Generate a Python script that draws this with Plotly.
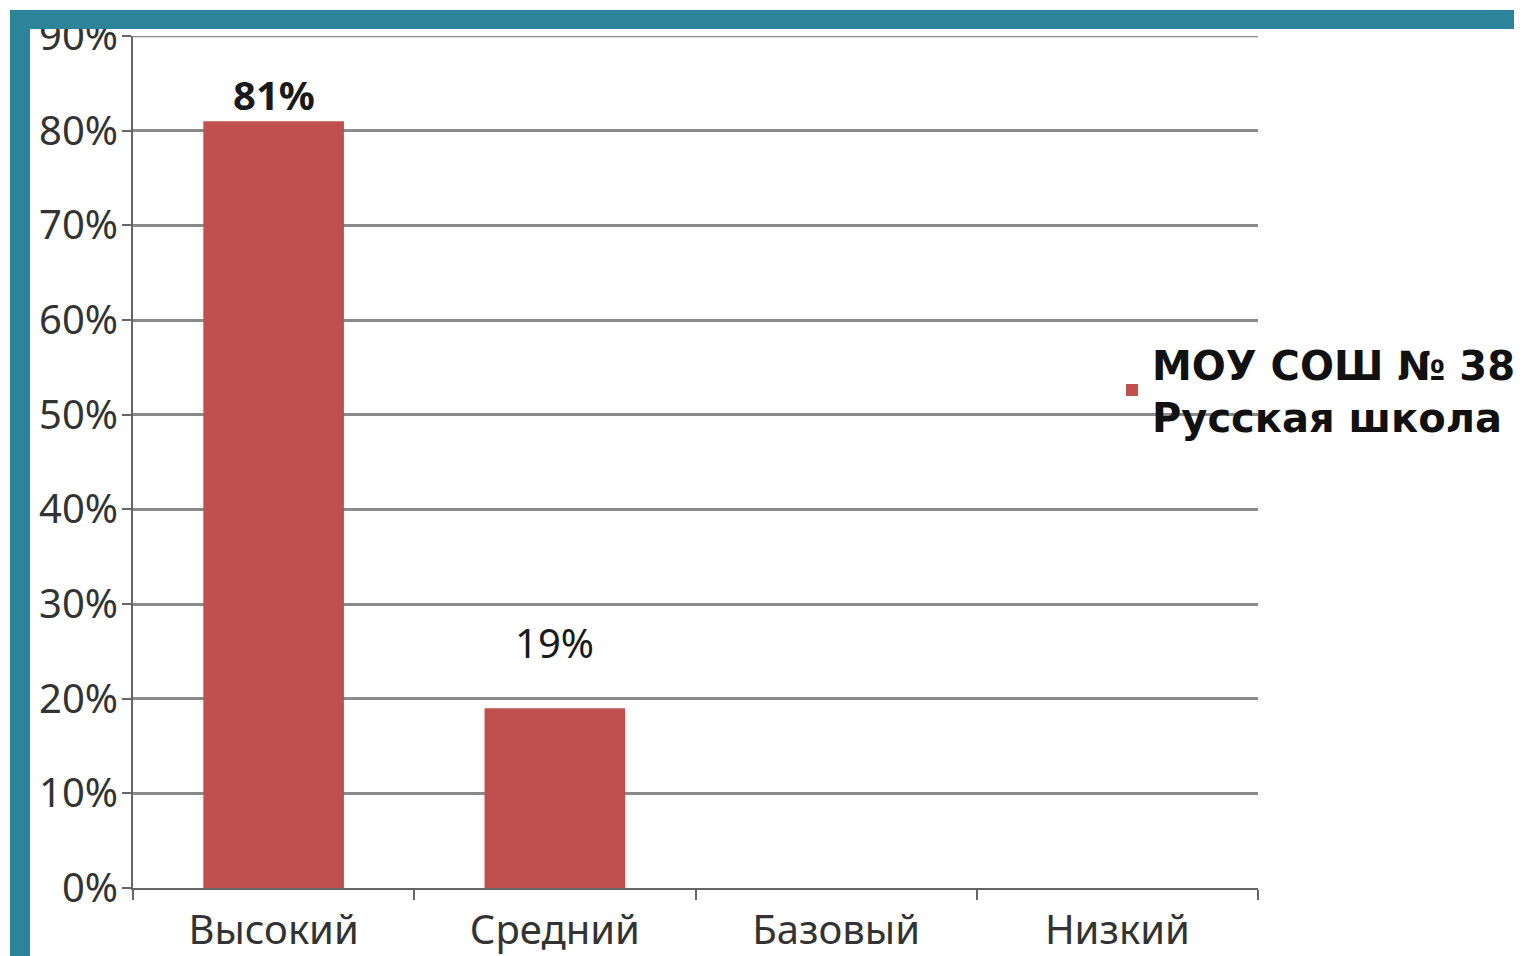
import plotly.graph_objects as go

categories = ["Высокий", "Средний", "Базовый", "Низкий"]
values = [81, 19, 0, 0]
series_name = "МОУ СОШ № 38<br>Русская школа"
y_ticks = list(range(0, 91, 10))
y_tick_labels = [f"{t}%" for t in y_ticks]

# label styling (offsets in px above bar top, bold flags)
label_shift = [27, 66, 0, 0]
label_bold = [True, False, False, False]

# page shows the figure offset by the default 8px body margin
OFF = 8
W, H = 1522 - OFF, 956 - OFF
ML, MT = 133 - OFF, 36 - OFF
PR, PB = 1258 - OFF, 888 - OFF
MR, MB = W - PR, H - PB
PW, PH = PR - ML, PB - MT

def px_x(px):
    return (px - OFF - ML) / PW

def px_y(py):
    return (PB - (py - OFF)) / PH

FONT = "Noto Sans"
GRID = "#8a8a8a"

fig = go.Figure()
fig.add_trace(go.Bar(
    x=categories, y=values, name=series_name,
    marker=dict(color="#C0504D", line=dict(width=0)),
    width=0.5,
    showlegend=True,
))

annotations = []
for cat, v, sh, b in zip(categories, values, label_shift, label_bold):
    if v == 0:
        continue
    annotations.append(dict(
        x=cat, y=v, xref="x", yref="y", text=f"{v}%",
        showarrow=False, yanchor="middle", yshift=sh,
        font=dict(family=FONT, size=40, color="#1a1a1a",
                  weight="bold" if b else "normal"),
    ))

fig.update_layout(
    width=W, height=H,
    margin=dict(l=ML, r=MR, t=MT, b=MB, autoexpand=False),
    paper_bgcolor="white", plot_bgcolor="white",
    font=dict(family=FONT, size=40, color="#333333"),
    legend=dict(
        x=px_x(1112), xanchor="left",
        y=px_y(390), yanchor="middle",
        bgcolor="rgba(0,0,0,0)",
        font=dict(family="DejaVu Sans", size=40, color="#111111", weight="bold"),
    ),
    xaxis=dict(
        type="category", range=[-0.5, 3.5], automargin=False,
        showgrid=False, showline=True, linecolor="#666666", linewidth=2,
        ticks="outside", tickson="boundaries", ticklen=10, tickwidth=2, tickcolor="#666666",
        tickfont=dict(family=FONT, size=40, color="#333333"),
        ticklabelstandoff=6, ticklabeloverflow="allow",
    ),
    yaxis=dict(
        range=[0, 90], tickvals=y_ticks, ticktext=y_tick_labels, automargin=False,
        showgrid=True, gridcolor=GRID, gridwidth=2.5,
        showline=True, linecolor="#666666", linewidth=2,
        ticks="outside", ticklen=9, tickwidth=2, tickcolor="#666666",
        tickfont=dict(family=FONT, size=40, color="#333333"),
        ticklabelstandoff=-4, ticklabeloverflow="allow",
        zeroline=False,
    ),
    annotations=annotations,
    shapes=[
        # top gridline at the range end (Plotly drops edge gridlines)
        dict(type="line", xref="paper", yref="y",
             x0=0, x1=1, y0=y_ticks[-1], y1=y_ticks[-1],
             line=dict(color=GRID, width=2.5), layer="below"),
        dict(type="rect", xref="paper", yref="paper",
             x0=px_x(10), x1=px_x(30), y0=px_y(970), y1=px_y(10),
             fillcolor="#2B8499", line=dict(width=0), layer="above"),
        dict(type="rect", xref="paper", yref="paper",
             x0=px_x(10), x1=px_x(1530), y0=px_y(29), y1=px_y(10),
             fillcolor="#2B8499", line=dict(width=0), layer="above"),
    ],
)

fig.write_html("out.html")
